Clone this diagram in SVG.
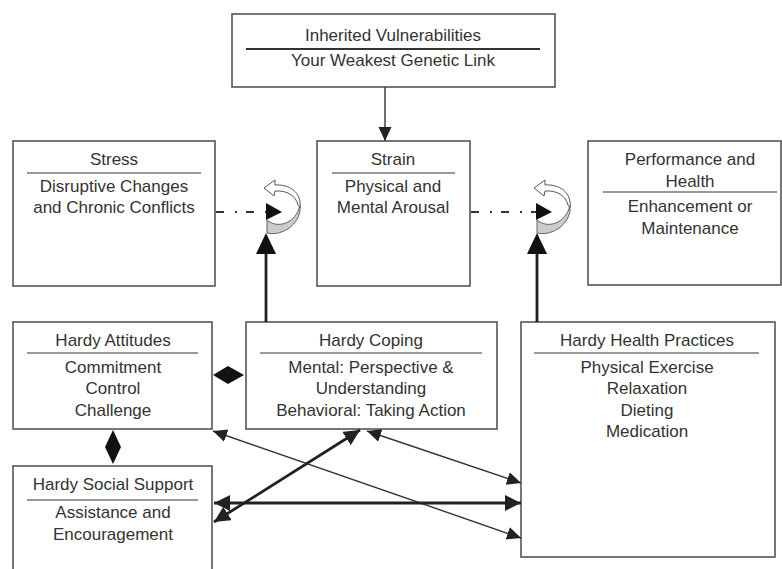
<svg xmlns="http://www.w3.org/2000/svg" width="782" height="569" viewBox="0 0 782 569">
<style>
.box{fill:#fff;stroke:#555;stroke-width:1.6}
.sep{stroke:#777;stroke-width:1.6}
.t{font-family:"Liberation Sans",Arial,sans-serif;font-size:17px;fill:#333;text-anchor:middle}
.thin{stroke:#333;stroke-width:1.4;fill:none}
.thick{stroke:#222;stroke-width:2.8;fill:none}
.dd{stroke:#333;stroke-width:2;stroke-dasharray:8 11 2 9;fill:none}
</style>
<defs>
<marker id="hThin" markerUnits="userSpaceOnUse" markerWidth="16" markerHeight="14" refX="14" refY="6.5" orient="auto-start-reverse"><path d="M0,0 L14,6.5 L0,13 Z" fill="#222"/></marker>
<marker id="hThick" markerUnits="userSpaceOnUse" markerWidth="18" markerHeight="18" refX="16" refY="8" orient="auto-start-reverse"><path d="M0,0 L16,8 L0,16 Z" fill="#222"/></marker>
<g id="curl">
<path d="M0,8 C10,17 29,12 33,-7 L33,-1 C30,16 12,24 0,21 Z" fill="#ccc" stroke="#555" stroke-width="0.9"/>
<path d="M33,-4 C35,-20 22,-28 8,-27 L8,-32 L-3,-24 L7,-16 L8,-21 C20,-22 29,-16 31,-7 Z" fill="#fff" stroke="#555" stroke-width="1"/>
<path d="M-1,-9 L15,0 L-1,8 Z" fill="#111"/>
</g>
</defs>

<g id="inherited">
<rect class="box" x="232" y="14" width="323" height="73"/>
<line x1="246" y1="49" x2="540" y2="49" stroke="#333" stroke-width="2.2"/>
<text class="t" x="393" y="41">Inherited Vulnerabilities</text>
<text class="t" x="393" y="66">Your Weakest Genetic Link</text>
</g>

<g id="stress">
<rect class="box" x="13" y="141" width="202" height="145"/>
<line class="sep" x1="27" y1="173" x2="201" y2="173"/>
<text class="t" x="114" y="165">Stress</text>
<text class="t" x="114" y="192">Disruptive Changes</text>
<text class="t" x="114" y="213">and Chronic Conflicts</text>
</g>

<g id="strain">
<rect class="box" x="317" y="141" width="153" height="145"/>
<line class="sep" x1="332" y1="173" x2="455" y2="173"/>
<text class="t" x="393" y="165">Strain</text>
<text class="t" x="393" y="192">Physical and</text>
<text class="t" x="393" y="213">Mental Arousal</text>
</g>

<g id="performance">
<rect class="box" x="588" y="141" width="193" height="144"/>
<line class="sep" x1="603" y1="192" x2="777" y2="192"/>
<text class="t" x="690" y="165">Performance and</text>
<text class="t" x="690" y="187">Health</text>
<text class="t" x="690" y="212">Enhancement or</text>
<text class="t" x="690" y="234">Maintenance</text>
</g>

<g id="attitudes">
<rect class="box" x="13" y="322" width="199" height="107"/>
<line class="sep" x1="27" y1="353" x2="198" y2="353"/>
<text class="t" x="113" y="346">Hardy Attitudes</text>
<text class="t" x="113" y="373">Commitment</text>
<text class="t" x="113" y="394">Control</text>
<text class="t" x="113" y="416">Challenge</text>
</g>

<g id="coping">
<rect class="box" x="246" y="322" width="251" height="107"/>
<line class="sep" x1="260" y1="353" x2="482" y2="353"/>
<text class="t" x="371" y="346">Hardy Coping</text>
<text class="t" x="371" y="373">Mental: Perspective &amp;</text>
<text class="t" x="371" y="394">Understanding</text>
<text class="t" x="371" y="416">Behavioral: Taking Action</text>
</g>

<g id="health">
<rect class="box" x="521" y="322" width="254" height="235"/>
<line class="sep" x1="534" y1="353" x2="759" y2="353"/>
<text class="t" x="647" y="346">Hardy Health Practices</text>
<text class="t" x="647" y="373">Physical Exercise</text>
<text class="t" x="647" y="394">Relaxation</text>
<text class="t" x="647" y="416">Dieting</text>
<text class="t" x="647" y="437">Medication</text>
</g>

<g id="social">
<rect class="box" x="13" y="466" width="199" height="110"/>
<line class="sep" x1="27" y1="500" x2="198" y2="500"/>
<text class="t" x="113" y="490">Hardy Social Support</text>
<text class="t" x="113" y="518">Assistance and</text>
<text class="t" x="113" y="540">Encouragement</text>
</g>

<g id="connectors">
<line class="thin" x1="385" y1="87" x2="385" y2="141" marker-end="url(#hThin)"/>
<line class="dd" x1="216" y1="212" x2="268" y2="212"/>
<line class="dd" x1="471" y1="212" x2="538" y2="212"/>
<use href="#curl" transform="translate(267,212)"/>
<use href="#curl" transform="translate(537,212)"/>
<line class="thick" x1="266" y1="322" x2="266" y2="250"/>
<path d="M266,233 L276,254 L256,254 Z" fill="#111"/>
<line class="thick" x1="537" y1="322" x2="537" y2="250"/>
<path d="M537,233 L547,254 L527,254 Z" fill="#111"/>
<path d="M213,375 L228,366 L244,375 L228,384 Z" fill="#111"/>
<path d="M113,430 L121,447 L113,464 L105,447 Z" fill="#111"/>
<line class="thin" x1="213" y1="431" x2="521" y2="538" marker-start="url(#hThin)" marker-end="url(#hThin)"/>
<line class="thin" x1="367" y1="431" x2="521" y2="483" marker-start="url(#hThin)" marker-end="url(#hThin)"/>
<line class="thick" x1="360" y1="430" x2="214" y2="522" marker-start="url(#hThick)" marker-end="url(#hThick)"/>
<line class="thick" x1="214" y1="503" x2="521" y2="503" marker-start="url(#hThick)" marker-end="url(#hThick)"/>
</g>
</svg>
